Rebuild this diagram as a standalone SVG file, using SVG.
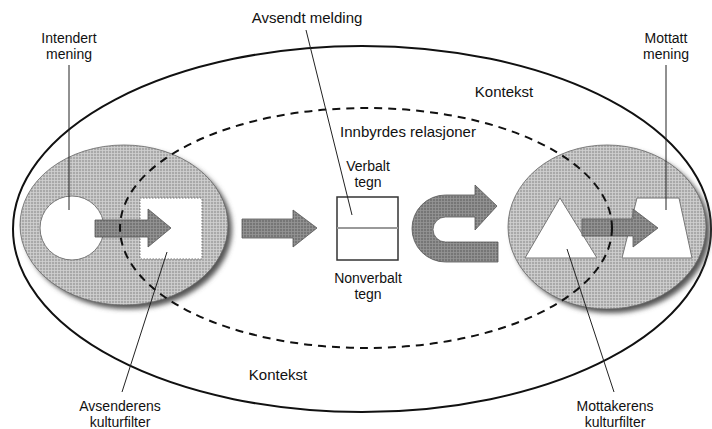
<svg xmlns="http://www.w3.org/2000/svg" width="712" height="429" viewBox="0 0 712 429">
  <defs>
    <pattern id="tex" width="3" height="3" patternUnits="userSpaceOnUse">
      <rect width="3" height="3" fill="#a9a9a9"/>
      <path d="M0 0.5H3M0.5 0V3" stroke="#d2d2d2" stroke-width="0.8"/>
    </pattern>
    <pattern id="texd" width="3" height="3" patternUnits="userSpaceOnUse">
      <rect width="3" height="3" fill="#767676"/>
      <path d="M0 0.5H3M0.5 0V3" stroke="#959595" stroke-width="0.8"/>
    </pattern>
    <filter id="blur" x="-20%" y="-20%" width="140%" height="140%">
      <feGaussianBlur stdDeviation="2.5"/>
    </filter>
  </defs>
  <style>
    text { font-family: "Liberation Sans", Arial, sans-serif; font-size: 14px; fill: #111; text-anchor: middle; }
    .big { font-size: 15px; }
    .outer { fill: none; stroke: #111; stroke-width: 2; }
    .dash { fill: none; stroke: #111; stroke-width: 2; stroke-dasharray: 8 6; }
    .filter { fill: url(#tex); stroke: #666; stroke-width: 0.8; }
    .shadow { fill: #555; filter: url(#blur); }
    .arrow { fill: url(#texd); stroke: #555; stroke-width: 0.8; }
    .white { fill: #fff; stroke: #777; stroke-width: 1; }
    .lead { fill: none; stroke: #222; stroke-width: 1; }
  </style>

  <rect width="712" height="429" fill="#fff"/>

  <g id="kontekst">
    <ellipse class="outer" cx="362" cy="229" rx="349" ry="183"/>
    <text class="big" x="504" y="97">Kontekst</text>
    <text class="big" x="278" y="380">Kontekst</text>
  </g>

  <g id="avsenderens-kulturfilter">
    <ellipse class="shadow" cx="128" cy="229" rx="104" ry="80"/>
    <ellipse class="filter" cx="124" cy="225" rx="104" ry="80"/>
    <circle class="white" cx="72" cy="228" r="32" stroke="#888"/>
    <rect class="white" x="140" y="198" width="62" height="61" stroke-dasharray="1.5 1.5"/>
    <path class="arrow" d="M95 220H148V209L171 228L148 247V237H95Z"/>
  </g>

  <g id="mottakerens-kulturfilter">
    <ellipse class="shadow" cx="611" cy="231" rx="99" ry="82"/>
    <ellipse class="filter" cx="607" cy="227" rx="99" ry="82"/>
    <path class="white" d="M560 198L597 258H525Z"/>
    <path class="white" d="M637 198H679L692 258H622Z"/>
    <path class="arrow" d="M582 219H633V209L658 228L633 247V236H582Z"/>
  </g>

  <g id="melding">
    <rect x="337" y="197" width="61" height="63" fill="#fff" stroke="#333" stroke-width="1.5"/>
    <line x1="337" y1="228" x2="398" y2="228" stroke="#999" stroke-width="2"/>
    <text x="368" y="171">Verbalt</text>
    <text x="368" y="187">tegn</text>
    <text x="368" y="283">Nonverbalt</text>
    <text x="368" y="299">tegn</text>
  </g>

  <g id="connectors">
    <path class="arrow" d="M242 219H293V210L317 228L293 247V238H242Z"/>
    <path class="arrow" d="M475 195H445.5A33.5 33.5 0 0 0 445.5 262H498V242H445.5A12.5 12.5 0 0 1 445.5 217H475V230L497 206L475 185Z"/>
  </g>

  <g id="innbyrdes-relasjoner">
    <ellipse class="dash" cx="366" cy="228" rx="246" ry="120"/>
    <text class="big" x="408" y="137">Innbyrdes relasjoner</text>
  </g>

  <g id="labels">
    <text x="69" y="43">Intendert</text>
    <text x="69" y="59">mening</text>
    <line class="lead" x1="69" y1="65" x2="69" y2="210"/>

    <text class="big" x="307" y="23">Avsendt melding</text>
    <line class="lead" x1="306" y1="30" x2="352" y2="215"/>

    <text x="666" y="43">Mottatt</text>
    <text x="666" y="59">mening</text>
    <line class="lead" x1="666" y1="65" x2="666" y2="210"/>

    <text x="120" y="411">Avsenderens</text>
    <text x="120" y="427">kulturfilter</text>
    <line class="lead" x1="167" y1="252" x2="122" y2="392"/>

    <text x="615" y="411">Mottakerens</text>
    <text x="615" y="427">kulturfilter</text>
    <line class="lead" x1="567" y1="249" x2="614" y2="392"/>
  </g>
</svg>
